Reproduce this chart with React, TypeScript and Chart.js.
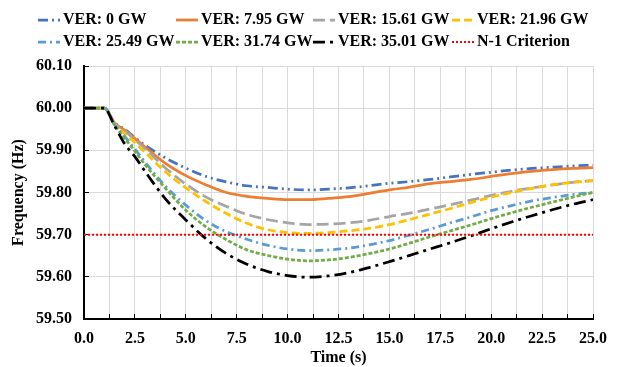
import React, { useEffect, useRef } from 'react';
import { Chart, registerables } from 'chart.js';

Chart.register(...registerables);

// ---------- data ----------
const TIME = [0, 1, 1.5, 2, 2.5, 3, 4, 5, 6, 7, 8, 9, 10, 11, 12, 13, 14, 15, 16, 17, 18, 19, 20, 21, 22, 23, 24, 25];

const VER_0 = [60, 60, 59.966, 59.95, 59.93, 59.912, 59.882, 59.858, 59.838, 59.825, 59.816, 59.812, 59.808, 59.806, 59.808, 59.811, 59.816, 59.822, 59.826, 59.831, 59.837, 59.843, 59.848, 59.853, 59.857, 59.86, 59.863, 59.865];
const VER_7_95 = [60, 60, 59.965, 59.948, 59.928, 59.908, 59.869, 59.84, 59.818, 59.8, 59.791, 59.786, 59.783, 59.783, 59.786, 59.79, 59.798, 59.806, 59.813, 59.821, 59.826, 59.831, 59.838, 59.845, 59.85, 59.854, 59.857, 59.859];
const VER_15_61 = [60, 60, 59.963, 59.946, 59.925, 59.904, 59.858, 59.82, 59.789, 59.767, 59.748, 59.736, 59.728, 59.724, 59.725, 59.728, 59.734, 59.743, 59.751, 59.761, 59.771, 59.782, 59.793, 59.803, 59.811, 59.818, 59.824, 59.828];
const VER_21_96 = [60, 60, 59.962, 59.94, 59.918, 59.895, 59.849, 59.811, 59.778, 59.75, 59.727, 59.712, 59.705, 59.703, 59.705, 59.709, 59.715, 59.724, 59.736, 59.749, 59.762, 59.776, 59.789, 59.8, 59.81, 59.818, 59.824, 59.828];
const VER_25_49 = [60, 60, 59.961, 59.933, 59.903, 59.872, 59.815, 59.77, 59.733, 59.707, 59.689, 59.675, 59.666, 59.662, 59.664, 59.668, 59.676, 59.686, 59.699, 59.713, 59.728, 59.742, 59.757, 59.769, 59.78, 59.788, 59.795, 59.8];
const VER_31_74 = [60, 60, 59.96, 59.928, 59.898, 59.866, 59.81, 59.758, 59.718, 59.688, 59.664, 59.651, 59.642, 59.638, 59.64, 59.646, 59.655, 59.666, 59.68, 59.695, 59.709, 59.723, 59.738, 59.752, 59.765, 59.777, 59.789, 59.8];
const VER_35_01 = [60, 60, 59.958, 59.915, 59.885, 59.85, 59.785, 59.735, 59.69, 59.655, 59.63, 59.613, 59.603, 59.599, 59.602, 59.61, 59.622, 59.636, 59.651, 59.666, 59.681, 59.697, 59.714, 59.73, 59.745, 59.759, 59.772, 59.783];

const CRITERION_TIME = [0, 25];
const CRITERION_FREQ = [59.7, 59.7];

const SERIES_LABELS = [
  'VER: 0 GW',
  'VER: 7.95 GW',
  'VER: 15.61 GW',
  'VER: 21.96 GW',
  'VER: 25.49 GW',
  'VER: 31.74 GW',
  'VER: 35.01 GW',
  'N-1 Criterion',
];

const X_MIN = 0;
const X_MAX = 25;
const X_STEP = 1.25;
const X_LABEL_STEP = 2.5;
const Y_MIN = 59.5;
const Y_MAX = 60.1;
const Y_STEP = 0.1;

// ---------- styles ----------
const FONT = '"Liberation Serif", "Times New Roman", serif';
const STYLES = [
  { color: '#4472C4', dash: [10, 4, 2, 4, 2, 4] },
  { color: '#ED7D31', dash: [] },
  { color: '#A5A5A5', dash: [12, 5] },
  { color: '#FFC000', dash: [8, 4] },
  { color: '#5B9BD5', dash: [8, 4, 2, 4] },
  { color: '#70AD47', dash: [4, 2] },
  { color: '#000000', dash: [12, 5, 3, 5] },
];

const LEGEND_COL_X = [38, 176, 313, 452];
const LEGEND_ROW_Y = [20, 42];

const toPoints = (xs: number[], ys: number[]) => xs.map((x, i) => ({ x, y: ys[i] }));

const gridLegend = {
  id: 'gridLegend',
  afterDraw(chart: any) {
    const ctx = chart.ctx as CanvasRenderingContext2D;
    ctx.save();
    chart.data.datasets.forEach((ds: any, i: number) => {
      const x0 = LEGEND_COL_X[i % 4];
      const y = LEGEND_ROW_Y[Math.floor(i / 4)];
      ctx.beginPath();
      ctx.setLineDash(ds.borderDash || []);
      ctx.lineWidth = ds.borderWidth;
      ctx.strokeStyle = ds.borderColor;
      ctx.lineCap = 'butt';
      ctx.moveTo(x0, y);
      ctx.lineTo(x0 + 22, y);
      ctx.stroke();
      ctx.setLineDash([]);
      ctx.fillStyle = '#000';
      ctx.font = `bold 16px ${FONT}`;
      ctx.textBaseline = 'middle';
      ctx.textAlign = 'left';
      ctx.fillText(ds.label, x0 + 25, y);
    });
    ctx.restore();
  },
};

export default function App() {
  const ref = useRef<HTMLCanvasElement>(null);

  useEffect(() => {
    document.body.style.margin = '0';
    const seriesValues = [VER_0, VER_7_95, VER_15_61, VER_21_96, VER_25_49, VER_31_74, VER_35_01];
    const n = seriesValues.length + 1;
    const datasets: any[] = seriesValues.map((vals, i) => ({
      label: SERIES_LABELS[i],
      data: toPoints(TIME, vals),
      borderColor: STYLES[i].color,
      backgroundColor: STYLES[i].color,
      borderDash: STYLES[i].dash,
      borderWidth: 2.75,
      borderCapStyle: 'butt',
      pointRadius: 0,
      fill: false,
      cubicInterpolationMode: 'monotone',
      order: n - i,
    }));
    datasets.push({
      label: SERIES_LABELS[7],
      data: toPoints(CRITERION_TIME, CRITERION_FREQ),
      borderColor: '#FF0000',
      backgroundColor: '#FF0000',
      borderDash: [2, 2],
      borderWidth: 2,
      pointRadius: 0,
      fill: false,
      order: 0,
    });

    const tickFont = { family: FONT, size: 16, weight: 'bold' as const };

    const chart = new Chart(ref.current as HTMLCanvasElement, {
      type: 'line',
      data: { datasets },
      plugins: [gridLegend],
      options: {
        responsive: false,
        animation: false,
        layout: { padding: { top: 66, right: 24, bottom: 0, left: 0 } },
        plugins: {
          legend: { display: false },
          tooltip: { enabled: false },
        },
        scales: {
          x: {
            type: 'linear',
            min: X_MIN,
            max: X_MAX,
            afterFit: (scale: any) => {
              scale.height = 48;
            },
            ticks: {
              stepSize: X_STEP,
              autoSkip: false,
              maxRotation: 0,
              padding: 15,
              color: '#000',
              font: tickFont,
              callback: (v: any) => {
                const r = Number(v) / X_LABEL_STEP;
                return Math.abs(r - Math.round(r)) < 1e-6 ? Number(v).toFixed(1) : '';
              },
            },
            grid: {
              color: '#d9d9d9',
              lineWidth: 1,
              drawTicks: true,
              tickLength: -5,
              tickColor: '#000',
              tickWidth: 1,
            },
            border: { display: true, color: '#000', width: 2 },
            title: {
              display: true,
              text: 'Time (s)',
              color: '#000',
              font: tickFont,
              padding: { top: 0, bottom: 0 },
            },
          },
          y: {
            type: 'linear',
            min: Y_MIN,
            max: Y_MAX,
            afterFit: (scale: any) => {
              scale.width = 84;
            },
            ticks: {
              stepSize: Y_STEP,
              padding: 17,
              color: '#000',
              font: tickFont,
              callback: (v: any) => Number(v).toFixed(2),
            },
            grid: {
              color: '#d9d9d9',
              lineWidth: 1,
              drawTicks: true,
              tickLength: -5,
              tickColor: '#000',
              tickWidth: 1,
            },
            border: { display: true, color: '#000', width: 2 },
            title: {
              display: true,
              text: 'Frequency (Hz)',
              color: '#000',
              font: tickFont,
              padding: { top: 9, bottom: 0 },
            },
          },
        },
      },
    } as any);

    return () => chart.destroy();
  }, []);

  return (
    <div style={{ width: 622, height: 367 }}>
      <canvas ref={ref} width={622} height={367} style={{ display: 'block' }} />
    </div>
  );
}
